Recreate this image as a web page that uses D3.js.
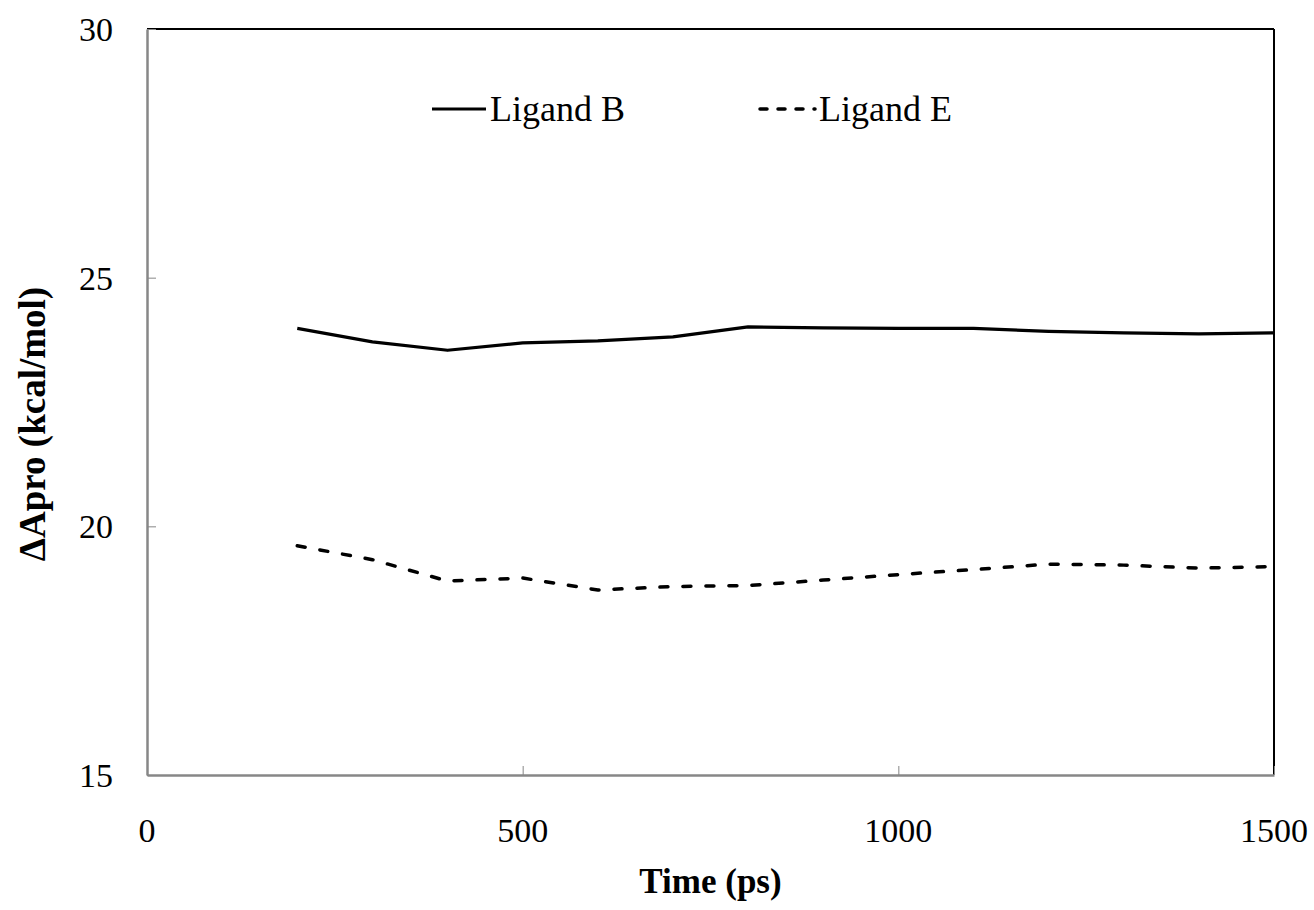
<!DOCTYPE html>
<html>
<head>
<meta charset="utf-8">
<script src="https://cdn.jsdelivr.net/npm/d3@7"></script>
<style>
  body { margin: 0; background: #fff; }
</style>
</head>
<body>
<svg width="1314" height="910"></svg>
<script>
// time points (ps)
var times = [200, 300, 400, 500, 600, 700, 800, 900, 1000, 1100, 1200, 1300, 1400, 1500];
// ΔApro values (kcal/mol)
var ligandB = [23.98, 23.71, 23.54, 23.69, 23.73, 23.81, 24.01, 23.99, 23.98, 23.98, 23.92, 23.89, 23.87, 23.89];
var ligandE = [19.61, 19.33, 18.90, 18.96, 18.72, 18.79, 18.81, 18.92, 19.03, 19.13, 19.24, 19.22, 19.16, 19.19];
var xTicks = [0, 500, 1000, 1500];
var yTicks = [15, 20, 25, 30];

var FONT = "'Liberation Serif', 'Times New Roman', Times, serif";

var margin = {left: 147, right: 40, top: 29, bottom: 135};
var width = 1314, height = 910;

var svg = d3.select("svg");

var x = d3.scaleLinear().domain([0, 1500]).range([margin.left, width - margin.right]);
var y = d3.scaleLinear().domain([15, 30]).range([height - margin.bottom, margin.top]);

// top and right frame lines (black)
svg.append("line")
  .attr("x1", x(0)).attr("x2", x(1500))
  .attr("y1", y(30)).attr("y2", y(30))
  .attr("stroke", "#000").attr("stroke-width", 2);
svg.append("line")
  .attr("x1", x(1500)).attr("x2", x(1500))
  .attr("y1", y(30)).attr("y2", y(15))
  .attr("stroke", "#000").attr("stroke-width", 2);

// axes: gray, ticks pointing inward
var xAxis = svg.append("g")
  .attr("transform", "translate(0," + y(15) + ")")
  .call(d3.axisBottom(x).tickValues(xTicks).tickSize(-9).tickSizeOuter(0));
var yAxis = svg.append("g")
  .attr("transform", "translate(" + x(0) + ",0)")
  .call(d3.axisLeft(y).tickValues(yTicks).tickSize(-9).tickSizeOuter(0));

[xAxis, yAxis].forEach(function(g) {
  g.select(".domain").attr("stroke", "#878787").attr("stroke-width", 2.5);
  g.selectAll(".tick line").attr("stroke", "#878787").attr("stroke-width", 1);
  g.selectAll(".tick text").remove();
});

// tick labels
svg.append("g").selectAll("text")
  .data(xTicks)
  .enter().append("text")
  .attr("x", function(d) { return x(d); })
  .attr("y", 842)
  .attr("text-anchor", "middle")
  .attr("font-family", FONT)
  .attr("font-size", 34)
  .text(function(d) { return d; });

svg.append("g").selectAll("text")
  .data(yTicks)
  .enter().append("text")
  .attr("x", 113)
  .attr("y", function(d) { return y(d) + 12; })
  .attr("text-anchor", "end")
  .attr("font-family", FONT)
  .attr("font-size", 34)
  .text(function(d) { return d; });

// axis titles
svg.append("text")
  .attr("x", (x(0) + x(1500)) / 2)
  .attr("y", 893)
  .attr("text-anchor", "middle")
  .attr("font-family", FONT)
  .attr("font-size", 35)
  .attr("font-weight", "bold")
  .text("Time (ps)");

svg.append("text")
  .attr("transform", "translate(45,424) rotate(-90)")
  .attr("text-anchor", "middle")
  .attr("font-family", FONT)
  .attr("font-size", 37)
  .attr("font-weight", "bold")
  .text("ΔApro (kcal/mol)");

// series lines
var line = d3.line()
  .x(function(d, i) { return x(times[i]); })
  .y(function(d) { return y(d); });

svg.append("path")
  .datum(ligandB)
  .attr("d", line)
  .attr("fill", "none")
  .attr("stroke", "#000")
  .attr("stroke-width", 3.2)
  .attr("stroke-linejoin", "round");

svg.append("path")
  .datum(ligandE)
  .attr("d", line)
  .attr("fill", "none")
  .attr("stroke", "#000")
  .attr("stroke-width", 3.5)
  .attr("stroke-linecap", "round")
  .attr("stroke-dasharray", "8,15");

// legend
var legend = svg.append("g");
legend.append("line")
  .attr("x1", 432).attr("x2", 486).attr("y1", 109).attr("y2", 109)
  .attr("stroke", "#000").attr("stroke-width", 3.2);
legend.append("text")
  .attr("x", 490).attr("y", 121)
  .attr("font-family", FONT)
  .attr("font-size", 36)
  .text("Ligand B");
legend.append("line")
  .attr("x1", 760).attr("x2", 815).attr("y1", 109).attr("y2", 109)
  .attr("stroke", "#000").attr("stroke-width", 3.5)
  .attr("stroke-linecap", "round")
  .attr("stroke-dasharray", "7,11");
legend.append("text")
  .attr("x", 819).attr("y", 121)
  .attr("font-family", FONT)
  .attr("font-size", 36)
  .text("Ligand E");
</script>
</body>
</html>
